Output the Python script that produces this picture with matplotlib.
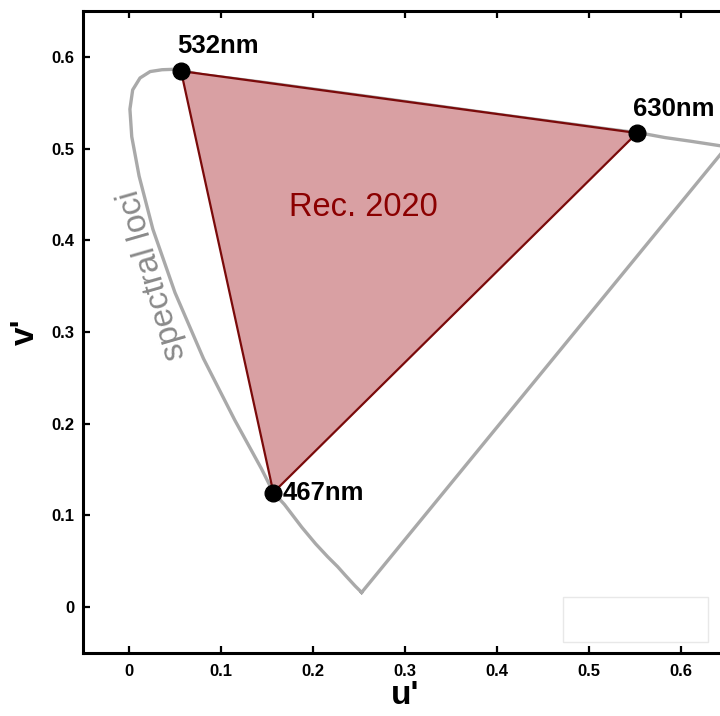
import matplotlib
matplotlib.use("Agg")
import matplotlib.pyplot as plt
from matplotlib.patches import Polygon, Rectangle

plt.rcParams['font.family'] = ['Liberation Sans', 'DejaVu Sans']

# spectral locus (u', v'), from the violet end round to the red end
locus_u = [0.253, 0.246, 0.235, 0.227, 0.216, 0.203, 0.188, 0.169, 0.157, 0.144,
           0.115, 0.081, 0.050, 0.026, 0.011, 0.003, 0.001, 0.004, 0.012, 0.023,
           0.036, 0.050, 0.080, 0.113, 0.153, 0.203, 0.262, 0.332, 0.404, 0.469,
           0.520, 0.557, 0.583, 0.611, 0.650]
locus_v = [0.016, 0.023, 0.035, 0.044, 0.055, 0.069, 0.087, 0.112, 0.125, 0.151,
           0.204, 0.271, 0.343, 0.412, 0.470, 0.513, 0.543, 0.564, 0.577, 0.584,
           0.586, 0.5865, 0.5805, 0.5765, 0.5714, 0.5646, 0.5566, 0.547, 0.537, 0.5284,
           0.5215, 0.5168, 0.512, 0.508, 0.502]

# Rec. 2020 primaries
prim_names = ["532nm", "630nm", "467nm"]
prim_u = [0.0566, 0.5525, 0.1570]
prim_v = [0.5845, 0.5170, 0.1250]

fig = plt.figure(figsize=(7.2, 7.16), dpi=100)
ax = fig.add_axes([0.1153, 0.088, 0.894, 0.8966])

# spectral loci, closed by the purple line
ax.plot(locus_u + [locus_u[0]], locus_v + [locus_v[0]], color='#a9a9a9', lw=2.4,
        solid_joinstyle='round', zorder=2)

tri = Polygon(list(zip(prim_u, prim_v)), closed=True, facecolor='#d9a0a3',
              edgecolor='#7a0a0a', lw=1.6, zorder=3)
ax.add_patch(tri)
ax.plot(prim_u, prim_v, 'o', color='black', ms=12, zorder=5)

ax.text(0.052, 0.612, prim_names[0], fontsize=18.5, fontweight='bold', va='center', ha='left')
ax.text(0.548, 0.543, prim_names[1], fontsize=18.5, fontweight='bold', va='center', ha='left')
ax.text(0.167, 0.125, prim_names[2], fontsize=18.5, fontweight='bold', va='center', ha='left')

ax.text(0.255, 0.436, "Rec. 2020", fontsize=23.5, color='#8b0000', ha='center', va='center', zorder=6)
ax.text(0.026, 0.362, "spectral loci", fontsize=24, color='#8a8a8a', rotation=106,
        ha='center', va='center', rotation_mode='anchor')

# leftover blank box in the lower right corner
ax.add_patch(Rectangle((0.7457, 0.017), 0.225, 0.07, transform=ax.transAxes,
                       facecolor='white', edgecolor='#e8e8e8', lw=1.0, zorder=4))

ax.set_xlim(-0.05, 0.65)
ax.set_ylim(-0.05, 0.65)
ticks = [0, 0.1, 0.2, 0.3, 0.4, 0.5, 0.6]
ax.set_xticks(ticks)
ax.set_yticks(ticks)
ax.set_xticklabels(["0", "0.1", "0.2", "0.3", "0.4", "0.5", "0.6"])
ax.set_yticklabels(["0", "0.1", "0.2", "0.3", "0.4", "0.5", "0.6"])
ax.tick_params(direction='in', length=5, width=1.6, top=True, right=True,
               labelsize=12)
ax.tick_params(axis='x', pad=8)
ax.tick_params(axis='y', pad=6)
for lab in ax.get_xticklabels() + ax.get_yticklabels():
    lab.set_fontweight('bold')
for sp in ax.spines.values():
    sp.set_linewidth(2.2)

ax.set_xlabel("u'", fontsize=24, fontweight='bold', labelpad=1)
ax.set_ylabel("v'", fontsize=24, fontweight='bold', labelpad=8)

fig.savefig("out.png", dpi=100)
